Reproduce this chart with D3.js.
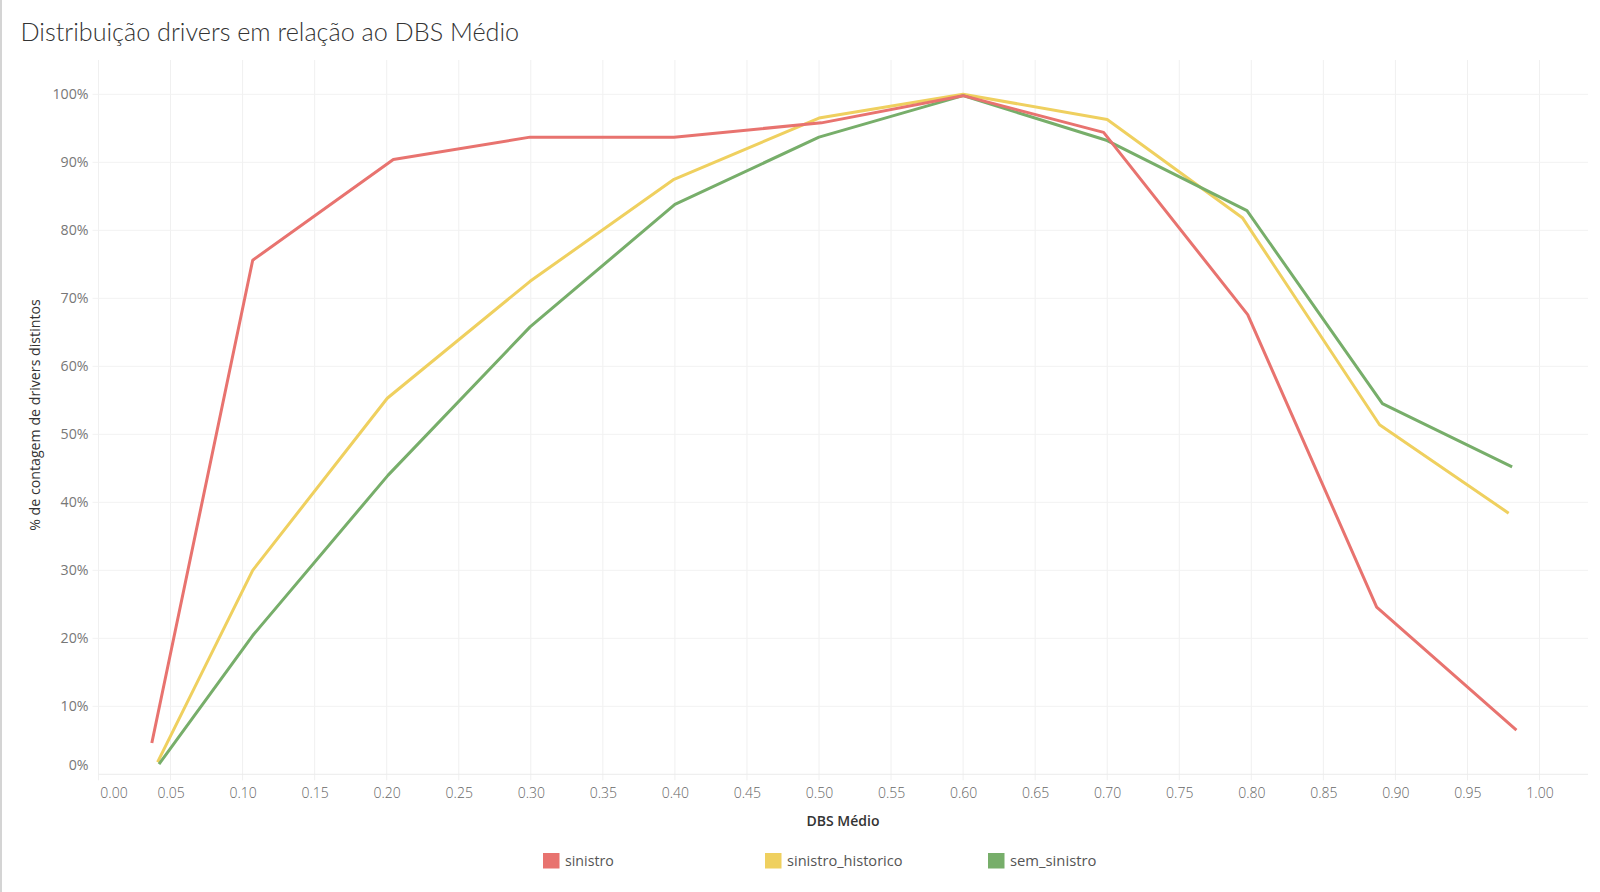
<!DOCTYPE html>
<html><head><meta charset="utf-8">
<script src="https://cdn.jsdelivr.net/npm/d3@7"></script>
<style>
html,body{margin:0;padding:0;background:#fff;}
svg{display:block;}
</style></head>
<body>
<svg id="chart" width="1600" height="892"></svg>
<script>
const title = "Distribuição drivers em relação ao DBS Médio";
const yTitle = "% de contagem de drivers distintos";
const xTitle = "DBS Médio";
const seriesNames = ["sinistro", "sinistro_historico", "sem_sinistro"];
const seriesColors = ["#e8736f", "#efd05f", "#77ae6a"];

const sinistroX = [0.037, 0.107, 0.2046, 0.2995, 0.3994, 0.5017, 0.600, 0.6975, 0.7975, 0.887, 0.984];
const sinistroY = [4.6, 75.6, 90.4, 93.7, 93.7, 95.8, 99.8, 94.4, 67.6, 24.6, 6.5];
const historicoX = [0.041, 0.107, 0.2004, 0.2995, 0.3994, 0.500, 0.600, 0.700, 0.794, 0.889, 0.9786];
const historicoY = [1.8, 30.0, 55.3, 72.5, 87.5, 96.5, 100.0, 96.3, 81.8, 51.4, 38.4];
const semX = [0.042, 0.107, 0.201, 0.2995, 0.400, 0.500, 0.600, 0.700, 0.797, 0.891, 0.981];
const semY = [1.5, 20.4, 44.0, 65.8, 83.8, 93.7, 99.8, 93.2, 82.9, 54.5, 45.2];

const xTicks = d3.range(0, 21).map(i => i * 0.05);
const yTicks = d3.range(0, 11).map(i => i * 10);

const seriesX = [sinistroX, historicoX, semX];
const seriesY = [sinistroY, historicoY, semY];

const svg = d3.select("#chart");
const W = 1600, H = 892;
const plot = {left: 98.5, right: 1588, top: 60, bottom: 774.3};
const FONT = "'Open Sans', Lato, sans-serif";

const x = d3.scaleLinear().domain([0, 1]).range([plot.left, 1539.5]);
const y = d3.scaleLinear().domain([0, 100]).range([plot.bottom, 94.3]);

// left border of the sheet
svg.append("line").attr("x1", 1).attr("x2", 1).attr("y1", 0).attr("y2", H)
  .attr("stroke", "#d4d4d4").attr("stroke-width", 2);

// title
svg.append("text").attr("x", 20.5).attr("y", 41)
  .attr("font-family", "Lato, 'Open Sans', sans-serif").attr("font-weight", 300)
  .attr("font-size", 25.2).attr("fill", "#333").text(title);

// gridlines
const grid = svg.append("g");
grid.selectAll("line.v").data(xTicks).join("line")
  .attr("x1", d => x(d)).attr("x2", d => x(d))
  .attr("y1", plot.top).attr("y2", plot.bottom + 6)
  .attr("stroke", "#f0f0f0").attr("stroke-width", 1);
grid.selectAll("line.h").data(yTicks.slice(1)).join("line")
  .attr("x1", plot.left - 6).attr("x2", plot.right)
  .attr("y1", d => y(d)).attr("y2", d => y(d))
  .attr("stroke", "#f2f2f2").attr("stroke-width", 1);
// bottom axis line (0% line)
svg.append("line").attr("x1", plot.left).attr("x2", plot.right)
  .attr("y1", plot.bottom).attr("y2", plot.bottom)
  .attr("stroke", "#ececec").attr("stroke-width", 1);

// y axis
const yAxis = d3.axisLeft(y).tickValues(yTicks).tickFormat(d => d + "%").tickSize(0).tickPadding(10);
const gy = svg.append("g").attr("transform", `translate(${plot.left},0)`).call(yAxis);
gy.select(".domain").remove();
gy.selectAll("text").attr("font-family", FONT).attr("font-weight", 400)
  .attr("font-size", 14.2).attr("fill", "#777")
  .attr("dy", (d, i) => i === 0 ? "-0.35em" : "0.32em");

// x axis
const xAxis = d3.axisBottom(x).tickValues(xTicks).tickFormat(d3.format(".2f")).tickSize(0).tickPadding(14);
const gx = svg.append("g").attr("transform", `translate(0,${plot.bottom})`).call(xAxis);
gx.select(".domain").remove();
gx.selectAll("text").attr("font-family", FONT).attr("font-weight", 300)
  .attr("font-size", 14).attr("fill", "#666")
  .attr("dx", (d, i) => i === 0 ? 15 : 0);

// axis titles
svg.append("text").attr("transform", `translate(39.5,415) rotate(-90)`)
  .attr("text-anchor", "middle").attr("font-family", FONT)
  .attr("font-size", 14.2).attr("fill", "#333").text(yTitle);
svg.append("text").attr("x", 843).attr("y", 826).attr("text-anchor", "middle")
  .attr("font-family", FONT).attr("font-weight", 600)
  .attr("font-size", 14).attr("fill", "#333").text(xTitle);

// lines
const line = d3.line().x(d => x(d[0])).y(d => y(d[1]));
const lines = svg.append("g");
seriesNames.forEach((name, i) => {
  const pts = seriesX[i].map((xv, j) => [xv, seriesY[i][j]]);
  lines.append("path").datum(pts).attr("d", line)
    .attr("fill", "none").attr("stroke", seriesColors[i]).attr("stroke-width", 3)
    .attr("stroke-linejoin", "round");
});
// draw order: red on top as in the reference
lines.node().appendChild(lines.node().firstChild);

// legend
const legendX = [543, 765, 988];
const legendSize = [14.2, 14.6, 14.8];
const lg = svg.append("g");
seriesNames.forEach((name, i) => {
  lg.append("rect").attr("x", legendX[i]).attr("y", 853).attr("width", 16.5).attr("height", 15.5)
    .attr("fill", seriesColors[i]);
  lg.append("text").attr("x", legendX[i] + 22).attr("y", 866)
    .attr("font-family", FONT).attr("font-size", legendSize[i])
    .attr("fill", "#555").text(name);
});
</script>
</body></html>
